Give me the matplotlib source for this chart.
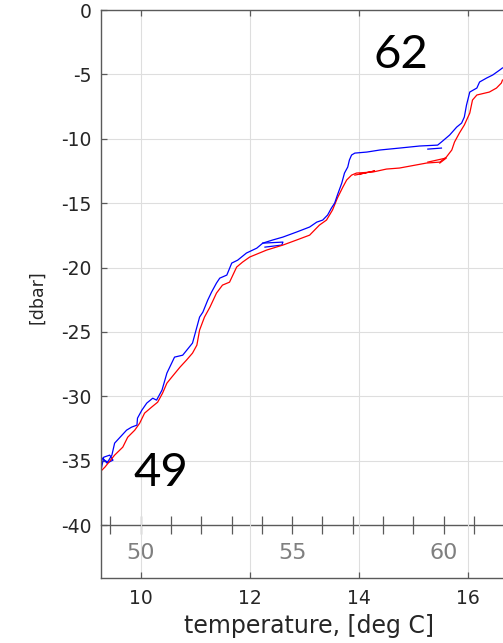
import matplotlib
matplotlib.use('Agg')
import matplotlib.pyplot as plt
import numpy as np

plt.rcParams['axes.unicode_minus'] = False

# temperature [deg C] / pressure [dbar]
blue_t = [9.25, 9.28, 9.39, 9.47, 9.52, 9.74, 9.83, 9.93, 9.94, 10.02,
          10.11, 10.22, 10.29, 10.39, 10.48, 10.62, 10.77, 10.95, 10.99, 11.08,
          11.14, 11.23, 11.30, 11.39, 11.45, 11.58, 11.67, 11.78, 11.94, 12.13,
          12.24, 12.42, 12.61, 12.86, 13.10, 13.23, 13.34, 13.43, 13.50, 13.56,
          13.61, 13.69, 13.74, 13.80, 13.83, 13.87, 13.93, 14.15, 14.39, 14.75,
          15.12, 15.45, 15.52, 15.67, 15.80, 15.89, 15.94, 15.98, 16.04, 16.17,
          16.22, 16.35, 16.46, 16.59, 16.64]
blue_p = [-36.66, -34.80, -35.11, -34.56, -33.63, -32.62, -32.39, -32.23, -31.69, -31.07,
          -30.52, -30.14, -30.29, -29.51, -28.19, -26.95, -26.80, -25.86, -25.24, -23.84,
          -23.46, -22.52, -21.90, -21.20, -20.82, -20.58, -19.65, -19.42, -18.87, -18.49,
          -18.10, -17.86, -17.63, -17.24, -16.85, -16.47, -16.31, -15.92, -15.38, -14.99,
          -14.37, -13.44, -12.66, -12.19, -11.65, -11.26, -11.11, -11.03, -10.87, -10.72,
          -10.56, -10.49, -10.25, -9.71, -9.09, -8.78, -8.31, -7.38, -6.37, -6.06,
          -5.59, -5.28, -5.05, -4.66, -4.50]

red_t = [9.25, 9.34, 9.52, 9.67, 9.76, 9.89, 9.98, 10.07, 10.20, 10.31,
         10.40, 10.48, 10.57, 10.72, 10.84, 10.95, 11.03, 11.08, 11.17, 11.27,
         11.39, 11.50, 11.63, 11.76, 11.87, 12.00, 12.31, 12.61, 12.86, 13.10,
         13.28, 13.41, 13.52, 13.61, 13.71, 13.78, 13.87, 13.96, 14.26, 14.51,
         14.75, 15.25, 15.49, 15.61, 15.71, 15.76, 15.85, 15.94, 16.04, 16.09,
         16.17, 16.40, 16.53, 16.62, 16.64]
red_p = [-35.88, -35.50, -34.56, -33.94, -33.17, -32.62, -32.08, -31.30, -30.83, -30.45,
         -29.75, -28.97, -28.50, -27.73, -27.18, -26.64, -26.02, -24.85, -23.84, -23.07,
         -21.98, -21.36, -21.13, -19.96, -19.57, -19.18, -18.64, -18.25, -17.86, -17.48,
         -16.70, -16.31, -15.53, -14.60, -13.75, -13.20, -12.82, -12.66, -12.58, -12.35,
         -12.27, -11.88, -11.81, -11.42, -10.87, -10.25, -9.55, -8.93, -8.00, -6.99,
         -6.60, -6.37, -6.06, -5.67, -5.44]

# extra overlapping cast fragments
blue_extra = [([9.27, 9.32, 9.43, 9.49, 9.38, 9.30], [-35.73, -34.72, -34.56, -34.95, -35.18, -34.80]),
              ([12.24, 12.61, 12.59, 12.28], [-18.10, -18.02, -18.25, -18.41]),
              ([15.27, 15.52], [-10.80, -10.72])]
red_extra = [([13.93, 14.29, 14.02], [-12.82, -12.50, -12.74]),
             ([15.27, 15.61, 15.49], [-11.81, -11.49, -11.88])]

day_labels = [50, 55, 60]
day_minor = list(range(49, 63))
day_start, day_end = 49, 62

#------------------------------------
fig = plt.figure(figsize=(5.03, 6.43), dpi=100)
ax = fig.add_axes([101/503, 65/643, 402/503, 568/643])

for t, p in blue_extra:
	ax.plot(t, p, '-', color='#0000ff', lw=0.9)
for t, p in red_extra:
	ax.plot(t, p, '-', color='#ff0000', lw=0.9)
ax.plot(red_t, red_p, '-', color='#ff0000', lw=0.9)
ax.plot(blue_t, blue_p, '-', color='#0000ff', lw=0.9)

ax.set_xlim(9.27, 16.65)
ax.set_ylim(-44.1, 0)
ax.set_xticks([10, 12, 14, 16])
ax.set_yticks(np.arange(-40, 1, 5))
ax.grid(True, color='#dedede', lw=0.8)
ax.set_axisbelow(True)

for s in ['left', 'bottom', 'top']:
	ax.spines[s].set_color('#5a5a5a')
	ax.spines[s].set_linewidth(1.0)
ax.spines['right'].set_visible(False)
ax.tick_params(axis='both', direction='in', length=4, width=0.9, color='#5a5a5a',
               labelcolor='#262626', labelsize=13.5)
ax.tick_params(axis='x', top=True, pad=8)
ax.tick_params(axis='y', pad=7)

ax.set_xlabel('temperature, [deg C]', fontsize=17, color='#262626')
ax.xaxis.set_label_coords(0.517, -0.063)
ax.set_ylabel('[dbar]', fontsize=12.5, color='#262626')
ax.yaxis.set_label_coords(-0.137, 0.495)

# profile number axis drawn inside the plot at -40 dbar
t_start, t_step = 9.444, 0.556
def t2day(t):
	return day_start + (np.asarray(t) - t_start) / t_step
def day2t(d):
	return t_start + (np.asarray(d) - day_start) * t_step

ylo, yhi = ax.get_ylim()
sec = ax.secondary_xaxis((-40 - ylo) / (yhi - ylo), functions=(t2day, day2t))
sec.set_xticks(day_labels)
sec.set_xticks(day_minor, minor=True)
sec.tick_params(which='both', direction='inout', length=13, width=0.9, color='#5a5a5a')
sec.tick_params(which='major', labelcolor='#7f7f7f', labelsize=16, pad=6)
sec.patch.set_visible(False)
for s in ['top', 'bottom']:
	sec.spines[s].set_color('#5a5a5a')
	sec.spines[s].set_linewidth(1.0)

# grid line at -40 is covered by the profile axis
for gl, yv in zip(ax.get_ygridlines(), ax.get_yticks()):
	if yv == -40:
		gl.set_visible(False)

ax.text(14.77, -3.5, '62', fontsize=34, family='Lato', ha='center', va='center', color='black')
ax.text(10.37, -35.96, '49', fontsize=34, family='Lato', ha='center', va='center', color='black')

plt.savefig('out.png', dpi=100)
